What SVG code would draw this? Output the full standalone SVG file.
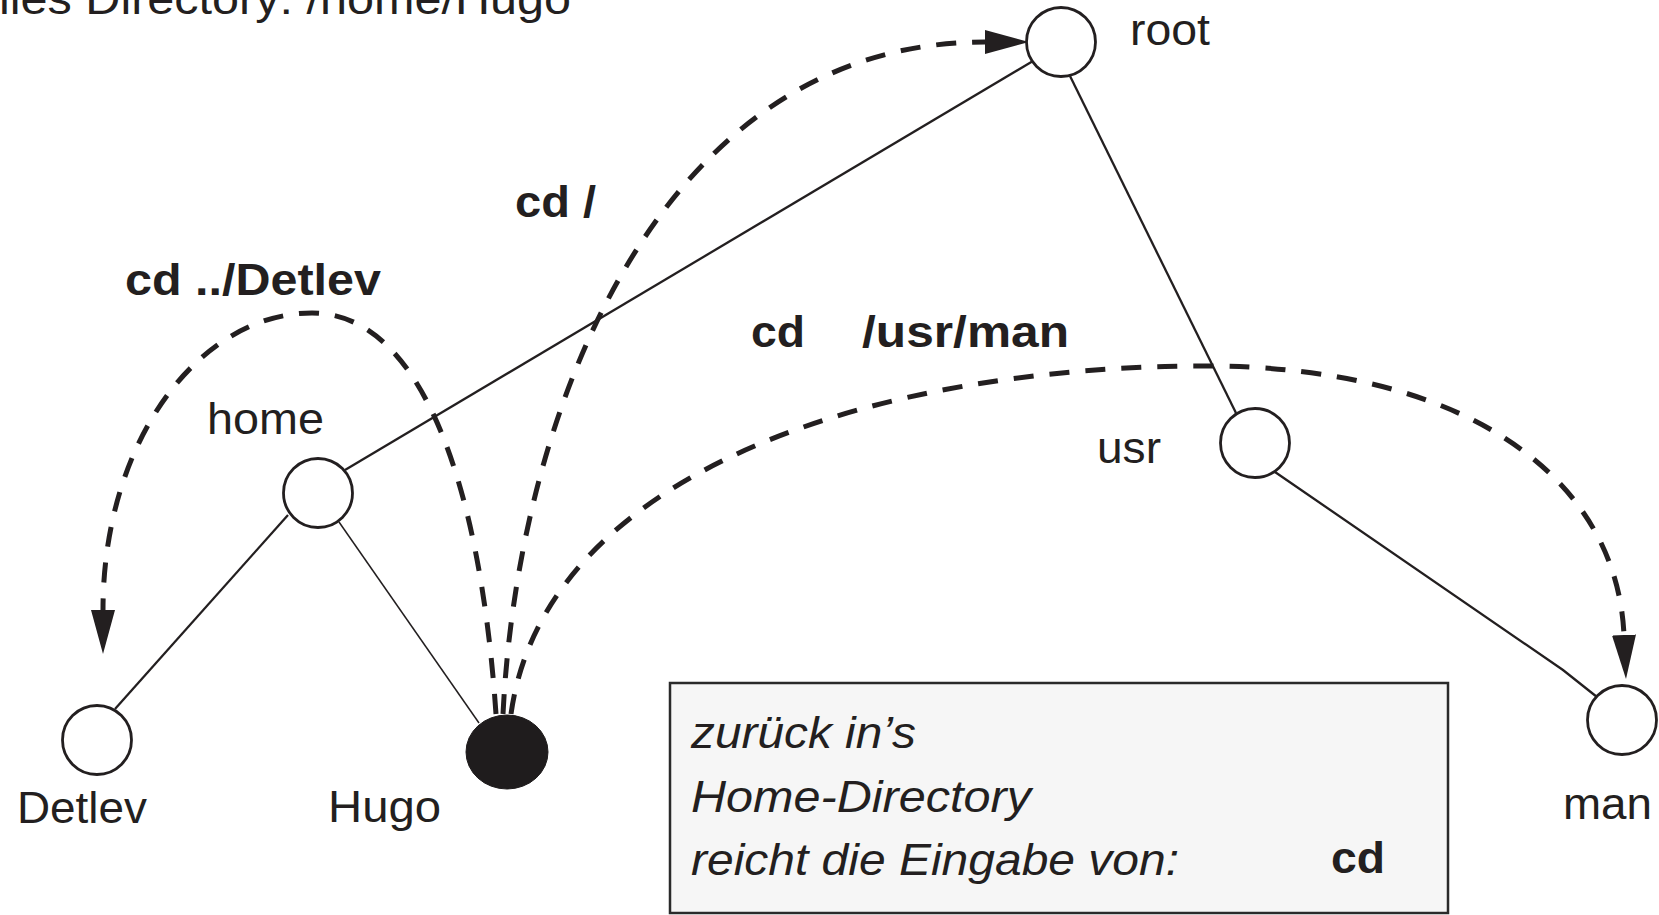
<svg xmlns="http://www.w3.org/2000/svg" width="1659" height="915" viewBox="0 0 1659 915">
<style>
text { font-family: "Liberation Sans", Arial, Helvetica, sans-serif; fill: #231f20; font-size: 45px; }
.b { font-weight: bold; }
.i { font-style: italic; }
.node { fill: #ffffff; stroke: #231f20; stroke-width: 2.8; }
.edge { fill: none; stroke: #231f20; stroke-width: 2.3; }
.thin { fill: none; stroke: #231f20; stroke-width: 1.5; }
.cmd { fill: none; stroke: #231f20; stroke-width: 5; stroke-dasharray: 20 16; marker-end: url(#arrow); }
</style>
<defs>
<marker id="arrow" markerUnits="userSpaceOnUse" viewBox="0 0 44 24" refX="0" refY="12" markerWidth="44" markerHeight="24" orient="auto">
<path d="M0,0 L44,12 L0,24 Z" fill="#231f20"/>
</marker>
</defs>
<rect width="1659" height="915" fill="#ffffff"/>

<text id="title" x="-1" y="14" textLength="572" lengthAdjust="spacingAndGlyphs">lles Directory: /home/Hugo</text>

<g id="connectors">
<line class="edge" x1="1033" y1="61" x2="345" y2="470"/>
<line class="edge" x1="1070" y1="76" x2="1236" y2="413"/>
<polyline class="edge" points="1275,472 1563,670 1597,697"/>
<line class="edge" x1="288" y1="515" x2="115" y2="709"/>
<line class="thin" x1="339" y1="522" x2="479" y2="723"/>
<path id="cmd-detlev" class="cmd" d="M496,714 C480,480 420,313 312,313 C200,313 103,440 103,610"/>
<path id="cmd-root" class="cmd" d="M503,714 C518,410 660,42 985,42"/>
<path id="cmd-man" class="cmd" d="M511,714 C545,470 880,366 1205,366 C1470,366 1617,480 1624,635"/>
</g>

<g id="labels">
<text class="b" x="125" y="295" textLength="256" lengthAdjust="spacingAndGlyphs">cd ../Detlev</text>
<text class="b" x="515" y="217" textLength="81" lengthAdjust="spacingAndGlyphs">cd /</text>
<text class="b" x="751" y="347" textLength="54" lengthAdjust="spacingAndGlyphs">cd</text>
<text class="b" x="862" y="347" textLength="207" lengthAdjust="spacingAndGlyphs">/usr/man</text>
</g>

<g id="node-root">
<circle class="node" cx="1061" cy="42" r="34.5"/>
<text x="1130" y="45" textLength="80" lengthAdjust="spacingAndGlyphs">root</text>
</g>
<g id="node-home">
<circle class="node" cx="318" cy="493" r="34.5"/>
<text x="207" y="434" textLength="117" lengthAdjust="spacingAndGlyphs">home</text>
</g>
<g id="node-usr">
<circle class="node" cx="1255" cy="443" r="34.5"/>
<text x="1097" y="463" textLength="64" lengthAdjust="spacingAndGlyphs">usr</text>
</g>
<g id="node-man">
<circle class="node" cx="1622" cy="720" r="34.5"/>
<text x="1563" y="819" textLength="89" lengthAdjust="spacingAndGlyphs">man</text>
</g>
<g id="node-detlev">
<circle class="node" cx="97" cy="740" r="34.5"/>
<text x="17" y="823" textLength="130" lengthAdjust="spacingAndGlyphs">Detlev</text>
</g>
<g id="node-hugo">
<ellipse cx="507" cy="752" rx="41" ry="37" fill="#1f1c1d" stroke="#1f1c1d" stroke-width="1"/>
<text x="328" y="822" textLength="113" lengthAdjust="spacingAndGlyphs">Hugo</text>
</g>

<g id="note">
<rect x="670" y="683" width="778" height="230" fill="#f6f6f6" stroke="#2a2a2a" stroke-width="2.5"/>
<text class="i" x="691" y="748" textLength="225" lengthAdjust="spacingAndGlyphs">zurück in’s</text>
<text class="i" x="691" y="812" textLength="340" lengthAdjust="spacingAndGlyphs">Home-Directory</text>
<text class="i" x="691" y="875" textLength="488" lengthAdjust="spacingAndGlyphs">reicht die Eingabe von:</text>
<text class="b" x="1331" y="873" textLength="54" lengthAdjust="spacingAndGlyphs">cd</text>
</g>
</svg>
